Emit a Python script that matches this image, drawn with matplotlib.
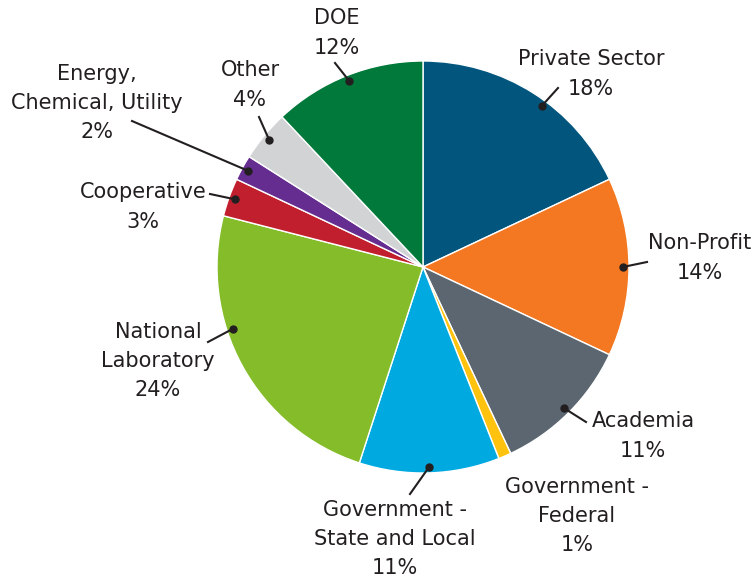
import numpy as np
import matplotlib.pyplot as plt

# -----------------------------
# Data
# -----------------------------
labels = ['Private Sector', 'Non-Profit', 'Academia', 'Government -\nFederal',
          'Government -\nState and Local', 'National\nLaboratory', 'Cooperative',
          'Energy,\nChemical, Utility', 'Other', 'DOE']
shares = [18, 14, 11, 1, 11, 24, 3, 2, 4, 12]
colors = ['#02567E', '#F47721', '#5B6670', '#FFC20E', '#00A9E0',
          '#84BC2A', '#C21F2E', '#662D91', '#D1D3D4', '#00793A']

# label layout (pixel coords, y measured from top), leader line end,
# and small angle nudges for the dots (degrees)
text_pos = [(591, 74), (700, 258), (643, 436), (577, 516), (395, 539),
            (158, 361), (143, 207), (97, 103), (250, 85), (337, 33)]
line_end = [(558, 88), (647, 262), (586, 422), None, (410, 494),
            (208, 342), (210, 194), (132, 121), (259, 117), (335, 63)]
dot_nudge = [-4, 0, 0, 0, 0, -10.8, 0, 0, 0, 0]

W, H = 756, 584
cx, cy, R = 423, H - 267, 206

plt.rcParams['font.family'] = ['DejaVu Sans']

fig = plt.figure(figsize=(W / 100, H / 100), dpi=100)
ax = fig.add_axes([0, 0, 1, 1])

wedges, _ = ax.pie(shares, colors=colors, startangle=90, counterclock=False,
                   center=(cx, cy), radius=R,
                   wedgeprops=dict(edgecolor='white', linewidth=1))

# pie resets the limits, so set them afterwards
ax.set_xlim(0, W)
ax.set_ylim(0, H)
ax.set_aspect('equal')
ax.axis('off')

total = sum(shares)
cum = np.cumsum([0] + shares[:-1])
for i, lab in enumerate(labels):
    mid = np.deg2rad(90 - (cum[i] + shares[i] / 2) / total * 360 + dot_nudge[i])
    dx, dy = cx + 0.97 * R * np.cos(mid), cy + 0.97 * R * np.sin(mid)
    tx, ty = text_pos[i]
    ax.text(tx, H - ty, f'{lab}\n{shares[i]}%', ha='center', va='center',
            fontsize=15, color='#231F20', linespacing=1.58)
    if line_end[i] is not None:
        ex, ey = line_end[i]
        ax.plot([dx, ex], [dy, H - ey], color='#231F20', lw=1.5)
        ax.plot(dx, dy, 'o', color='#231F20', ms=5)

fig.savefig('out.png', dpi=100)
